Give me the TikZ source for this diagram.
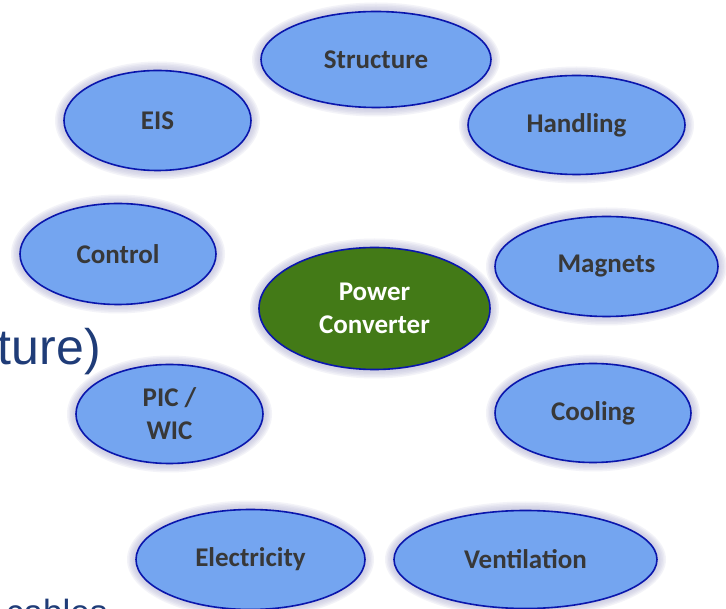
\documentclass[tikz,border=0pt]{standalone}
\usepackage{fontspec}
\setmainfont{Carlito}
\newfontfamily\bodyfont{Liberation Sans}
\usetikzlibrary{shapes.geometric}

\definecolor{bubblefill}{RGB}{116,165,240}
\definecolor{bubbleedge}{RGB}{10,22,172}
\definecolor{corefill}{RGB}{67,122,23}
\definecolor{labelgray}{RGB}{56,56,56}
\definecolor{halo}{RGB}{175,175,212}
\definecolor{slideblue}{RGB}{31,60,120}

\tikzset{
  bubble/.style={ellipse, draw=bubbleedge, line width=1.6pt, fill=bubblefill,
    inner sep=0pt, align=center, text=labelgray,
    font=\fontsize{27}{33}\selectfont\bfseries},
  core/.style={bubble, fill=corefill, text=white},
  glow/.style={fill=halo, fill opacity=0.14, draw=none},
  slidetext/.style={inner sep=0pt, text=slideblue}
}

% soft halo plus the labelled ellipse: name, x, y, x radius, y radius, style, text
\newcommand\bubblenode[7]{%
  \foreach \g in {9,7.5,6,4.5,3,1.5}{%
    \fill[glow] (#2,#3) ellipse [x radius={#4pt+\g pt}, y radius={#5pt+\g pt}];}
  \node[#6, minimum width={2*#4pt}, minimum height={2*#5pt}] (#1) at (#2,#3) {#7};
}

\begin{document}
\begin{tikzpicture}[x=1pt, y=-1pt]
  \useasboundingbox (0,0) rectangle (726,609);
  \clip (0,0) rectangle (726,609);
  \fill[white] (0,0) rectangle (726,609);

  % slide body text lying underneath
  \node[slidetext, anchor=base east, font=\bodyfont\fontsize{50}{60}\selectfont] (tail) at (101,365) {ture)};
  \node[slidetext, anchor=base west, font=\bodyfont\fontsize{35}{42}\selectfont] (cables) at (6,624) {cables};

  % ring of topics around the centre
  \bubblenode{structure}{376}{59.5}{115}{48}{bubble}{Structure}
  \bubblenode{eis}{157.5}{120.5}{93.5}{50}{bubble}{EIS}
  \bubblenode{handling}{576.5}{125}{108.5}{49.5}{bubble}{Handling}
  \bubblenode{control}{118}{254}{98}{50.5}{bubble}{Control}
  \bubblenode{magnets}{606.5}{266.5}{111.5}{50}{bubble}{Magnets}
  \bubblenode{piwic}{169.5}{414}{93.5}{49.5}{bubble}{PIC /\\WIC}
  \bubblenode{cooling}{593}{413}{98}{49.5}{bubble}{Cooling}
  \bubblenode{electricity}{250.5}{559.5}{114.5}{50}{bubble}{Electricity}
  \bubblenode{ventilation}{525.5}{559.5}{131.5}{49}{bubble}{Ventilation}

  % central item
  \bubblenode{converter}{374.5}{308.5}{115.5}{61}{core}{Power\\Converter}
\end{tikzpicture}
\end{document}
